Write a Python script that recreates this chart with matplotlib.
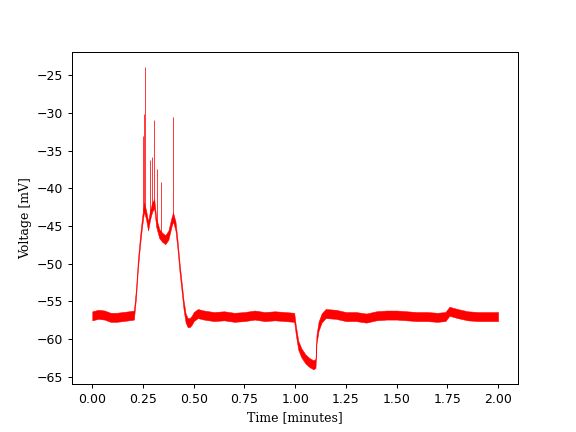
import numpy as np
import matplotlib
matplotlib.use("Agg")
import matplotlib.pyplot as plt

# membrane voltage trace (centre of the noisy band)
time_min = [0.0, 0.03, 0.06, 0.09, 0.12, 0.15, 0.18, 0.205, 0.215, 0.225,
            0.235, 0.245, 0.255, 0.265, 0.275, 0.285, 0.295, 0.305, 0.315, 0.33,
            0.345, 0.36, 0.375, 0.39, 0.398, 0.41, 0.42, 0.43, 0.44, 0.45,
            0.46, 0.47, 0.48, 0.49, 0.50, 0.52, 0.55, 0.60, 0.65, 0.70,
            0.75, 0.80, 0.85, 0.90, 0.95, 0.995, 1.003, 1.015, 1.03, 1.05,
            1.07, 1.09, 1.10, 1.105, 1.115, 1.13, 1.15, 1.20, 1.25, 1.30,
            1.35, 1.40, 1.45, 1.50, 1.55, 1.60, 1.65, 1.70, 1.74, 1.76,
            1.80, 1.85, 1.90, 1.95, 2.0]
voltage_mv = [-56.9, -56.7, -56.8, -57.1, -57.1, -57.0, -56.9, -56.8, -54.0, -50.0,
              -47.0, -44.5, -42.5, -43.5, -45.0, -43.5, -42.5, -42.0, -44.5, -46.0,
              -46.5, -46.8, -46.2, -44.5, -43.8, -45.0, -47.5, -50.5, -53.0, -55.5,
              -57.2, -57.8, -57.8, -57.5, -57.0, -56.6, -56.8, -57.0, -56.9, -57.1,
              -57.0, -56.8, -57.0, -56.9, -57.0, -57.1, -58.8, -60.8, -61.8, -62.6,
              -63.1, -63.4, -63.2, -60.0, -58.3, -57.2, -56.6, -56.7, -57.0, -57.0,
              -57.2, -56.9, -56.8, -56.8, -56.9, -57.0, -57.0, -57.1, -57.0, -56.3,
              -56.6, -56.9, -57.0, -57.0, -57.0]
noise_mv = 0.6

# action potentials
spike_time = [0.251, 0.256, 0.261, 0.284, 0.294, 0.306, 0.317, 0.340, 0.396]
spike_peak = [-33.0, -30.1, -23.9, -36.3, -35.9, -30.9, -37.4, -39.1, -30.5]
spike_base = [-43.0, -42.5, -42.5, -44.0, -42.5, -42.0, -44.5, -46.2, -44.0]

t = np.array(time_min)
v = np.array(voltage_mv)

fig, ax = plt.subplots(figsize=(6.4, 4.8), dpi=90)
ax.fill_between(t, v - noise_mv, v + noise_mv, color='r', linewidth=0.4)
ax.vlines(spike_time, spike_base, spike_peak, color='r', linewidth=0.6)

ax.set_xlabel('Time [minutes]', family='serif')
ax.set_ylabel('Voltage [mV]', family='serif')
fig.savefig('out.png', dpi=90)
